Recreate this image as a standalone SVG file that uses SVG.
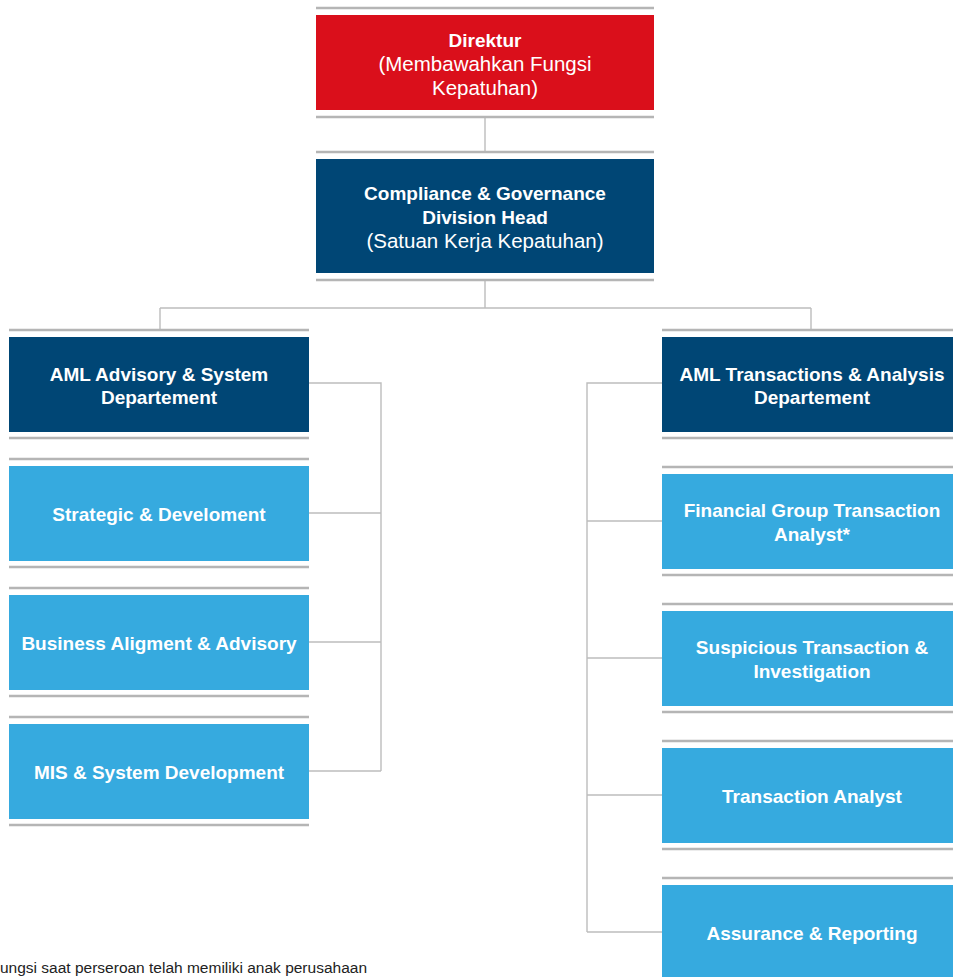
<svg xmlns="http://www.w3.org/2000/svg" width="953" height="977" viewBox="0 0 953 977">
<style>
.rule{stroke:#b5b5b5;stroke-width:2.4;fill:none}
.conn{stroke:#bdbdbd;stroke-width:1.4;fill:none}
.red{fill:#da0f1b}
.navy{fill:#004675}
.sky{fill:#36aadf}
text{font-family:"Liberation Sans",Arial,sans-serif;fill:#fff;text-anchor:middle;font-size:19px}
.b{font-weight:bold}
.r{font-size:20.5px}
.foot{fill:#222;text-anchor:start;font-size:14px}
</style>
<rect width="953" height="977" fill="#fff"/>
<g id="connectors">
<path class="conn" d="M485,117V152M485,280V308M160,308H811M160,308V329M811,308V329"/>
<path class="conn" d="M309,383H381V771M309,513H381M309,642H381M309,771H381"/>
<path class="conn" d="M662,383H587V932M587,521H662M587,658H662M587,795H662M587,932H662"/>
</g>
<g id="direktur">
<line class="rule" x1="316" y1="8" x2="654" y2="8"/>
<rect class="red" x="316" y="15" width="338" height="95"/>
<line class="rule" x1="316" y1="117" x2="654" y2="117"/>
<text class="b" x="485" y="47">Direktur</text>
<text class="r" x="485" y="71">(Membawahkan Fungsi</text>
<text class="r" x="485" y="95">Kepatuhan)</text>
</g>
<g id="compliance">
<line class="rule" x1="316" y1="152" x2="654" y2="152"/>
<rect class="navy" x="316" y="159" width="338" height="114"/>
<line class="rule" x1="316" y1="280" x2="654" y2="280"/>
<text class="b" x="485" y="200">Compliance &amp; Governance</text>
<text class="b" x="485" y="224">Division Head</text>
<text class="r" x="485" y="248">(Satuan Kerja Kepatuhan)</text>
</g>
<g id="aml-advisory">
<line class="rule" x1="9" y1="330" x2="309" y2="330"/>
<rect class="navy" x="9" y="337" width="300" height="95"/>
<line class="rule" x1="9" y1="438" x2="309" y2="438"/>
<text class="b" x="159" y="381">AML Advisory &amp; System</text>
<text class="b" x="159" y="404">Departement</text>
</g>
<g id="strategic">
<line class="rule" x1="9" y1="459" x2="309" y2="459"/>
<rect class="sky" x="9" y="466" width="300" height="95"/>
<line class="rule" x1="9" y1="567" x2="309" y2="567"/>
<text class="b" x="159" y="521">Strategic &amp; Develoment</text>
</g>
<g id="business">
<line class="rule" x1="9" y1="588" x2="309" y2="588"/>
<rect class="sky" x="9" y="595" width="300" height="95"/>
<line class="rule" x1="9" y1="696" x2="309" y2="696"/>
<text class="b" x="159" y="650">Business Aligment &amp; Advisory</text>
</g>
<g id="mis">
<line class="rule" x1="9" y1="717" x2="309" y2="717"/>
<rect class="sky" x="9" y="724" width="300" height="95"/>
<line class="rule" x1="9" y1="825" x2="309" y2="825"/>
<text class="b" x="159" y="779">MIS &amp; System Development</text>
</g>
<g id="aml-transactions">
<line class="rule" x1="662" y1="330" x2="962" y2="330"/>
<rect class="navy" x="662" y="337" width="300" height="95"/>
<line class="rule" x1="662" y1="438" x2="962" y2="438"/>
<text class="b" x="812" y="381">AML Transactions &amp; Analysis</text>
<text class="b" x="812" y="404">Departement</text>
</g>
<g id="financial">
<line class="rule" x1="662" y1="467" x2="962" y2="467"/>
<rect class="sky" x="662" y="474" width="300" height="95"/>
<line class="rule" x1="662" y1="575" x2="962" y2="575"/>
<text class="b" x="812" y="517">Financial Group Transaction</text>
<text class="b" x="812" y="541">Analyst*</text>
</g>
<g id="suspicious">
<line class="rule" x1="662" y1="604" x2="962" y2="604"/>
<rect class="sky" x="662" y="611" width="300" height="95"/>
<line class="rule" x1="662" y1="712" x2="962" y2="712"/>
<text class="b" x="812" y="654">Suspicious Transaction &amp;</text>
<text class="b" x="812" y="678">Investigation</text>
</g>
<g id="transaction-analyst">
<line class="rule" x1="662" y1="741" x2="962" y2="741"/>
<rect class="sky" x="662" y="748" width="300" height="95"/>
<line class="rule" x1="662" y1="849" x2="962" y2="849"/>
<text class="b" x="812" y="803">Transaction Analyst</text>
</g>
<g id="assurance">
<line class="rule" x1="662" y1="878" x2="962" y2="878"/>
<rect class="sky" x="662" y="885" width="300" height="95"/>
<text class="b" x="812" y="940">Assurance &amp; Reporting</text>
</g>
<text class="foot" x="0" y="973" textLength="367" lengthAdjust="spacingAndGlyphs">ungsi saat perseroan telah memiliki anak perusahaan</text>
</svg>
